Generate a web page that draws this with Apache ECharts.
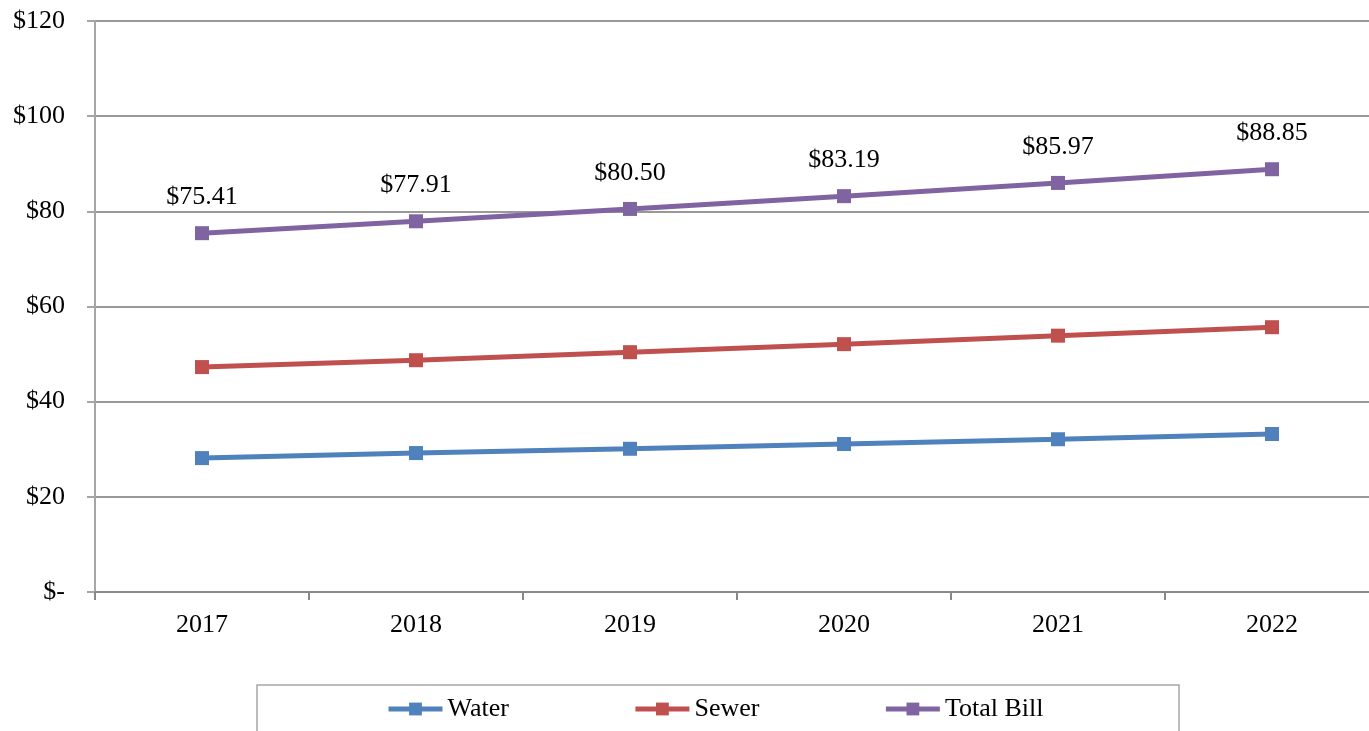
<!DOCTYPE html>
<html><head><meta charset="utf-8">
<script src="https://cdn.jsdelivr.net/npm/echarts@6/dist/echarts.min.js"></script>
<style>html,body{margin:0;padding:0;background:#fff}#c{width:1369px;height:731px}</style>
</head><body><div id="c"></div>
<script>
const years = ['2017','2018','2019','2020','2021','2022'];
const water = [28.14, 29.20, 30.10, 31.10, 32.10, 33.20];
const sewer = [47.27, 48.71, 50.40, 52.09, 53.87, 55.65];
const totalBill = [75.41, 77.91, 80.50, 83.19, 85.97, 88.85];
const seriesNames = ['Water','Sewer','Total Bill'];
const colors = ['#4F81BD','#C0504D','#8064A2'];

const font = 'Liberation Serif, Times New Roman, serif';
const chart = echarts.init(document.getElementById('c'), null, {renderer:'canvas'});
function mk(name, data, color, withLabel){
  return {
    name, type:'line', data, color,
    symbol:'rect', symbolSize:14,
    lineStyle:{width:5, color},
    itemStyle:{color},
    animation:false,
    label: withLabel ? {show:true, position:'top', distance:16, fontFamily:font, fontSize:26, color:'#000',
      formatter:p=>'$'+p.value.toFixed(2)} : {show:false}
  };
}
chart.setOption({
  animation:false,
  grid:{left:95, top:21, width:1284, bottom:139, containLabel:false, outerBoundsMode:'none'},
  xAxis:{type:'category', data:years, boundaryGap:true,
    axisLine:{lineStyle:{color:'#888', width:2}},
    axisTick:{show:true, length:8, lineStyle:{color:'#888', width:2}},
    axisLabel:{fontFamily:font, fontSize:26, color:'#000', margin:20}},
  yAxis:{type:'value', min:0, max:120, interval:20,
    axisLine:{show:true, lineStyle:{color:'#A6A6A6', width:2}},
    axisTick:{show:true, length:8, lineStyle:{color:'#A6A6A6', width:2}},
    splitLine:{lineStyle:{color:'#999', width:2}},
    axisLabel:{fontFamily:font, fontSize:26, color:'#000', margin:30,
      formatter:v=> v===0 ? '$-' : '$'+v}},
  legend:{data:seriesNames, top:696, left:386, padding:0, itemGap:124, itemWidth:54, itemHeight:16,
    lineStyle:{width:5},
    textStyle:{fontFamily:font, fontSize:26, color:'#000', padding:[0,0,0,0]}},
  graphic:[{type:'rect', shape:{x:257, y:685, width:922, height:80}, style:{fill:'none', stroke:'#A6A6A6', lineWidth:1.5}, z:-1}],
  series:[mk('Water',water,colors[0],false), mk('Sewer',sewer,colors[1],false), mk('Total Bill',totalBill,colors[2],true)]
});
</script></body></html>
